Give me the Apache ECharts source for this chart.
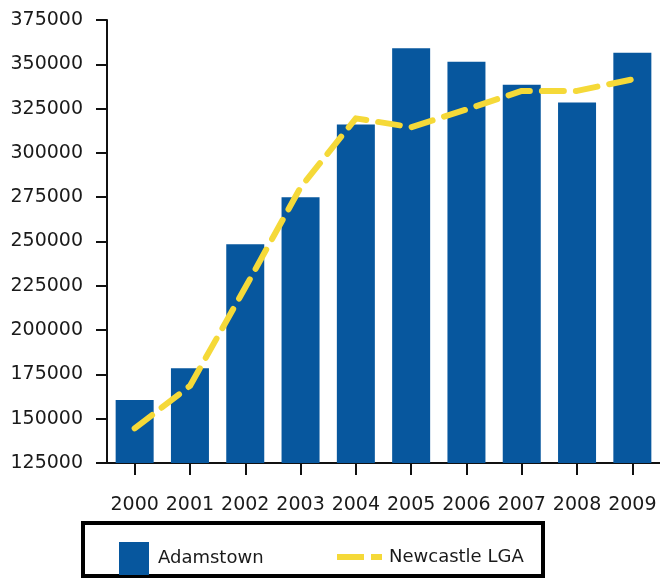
<!DOCTYPE html>
<html>
<head>
<meta charset="utf-8">
<script src="https://cdn.jsdelivr.net/npm/echarts@6/dist/echarts.min.js"></script>
<style>
html,body{margin:0;padding:0;background:#fff;}
#chart{width:660px;height:578px;}
</style>
</head>
<body>
<div id="chart"></div>
<script>
const years = ['2000','2001','2002','2003','2004','2005','2006','2007','2008','2009'];
const adamstown = [160500, 178500, 248500, 275000, 316000, 359000, 351500, 338500, 328500, 356500];
const newcastleLGA = [144500, 168500, 224000, 280500, 319500, 314500, 324500, 335000, 335000, 341500];
const yTicks = {min: 125000, max: 375000, interval: 25000};

const FONT = 'DejaVu Sans';
const BAR = '#07579E';
const LINE = '#F5D938';
const chart = echarts.init(document.getElementById('chart'), null, {renderer: 'canvas'});
chart.setOption({
  animation: false,
  backgroundColor: '#ffffff',
  textStyle: {fontFamily: FONT},
  grid: {left: 107, top: 20, width: 555, height: 443, containLabel: false},
  xAxis: {
    type: 'category',
    data: years,
    boundaryGap: true,
    axisLine: {lineStyle: {color: '#111', width: 2}},
    axisTick: {show: true, alignWithLabel: true, length: 12, lineStyle: {color: '#111', width: 2}},
    axisLabel: {color: '#1a1a1a', fontSize: 19, fontFamily: FONT, margin: 33, interval: 0}
  },
  yAxis: {
    type: 'value',
    min: yTicks.min, max: yTicks.max, interval: yTicks.interval,
    axisLine: {show: true, lineStyle: {color: '#111', width: 2}},
    axisTick: {show: true, length: 11, lineStyle: {color: '#111', width: 2}},
    splitLine: {show: false},
    axisLabel: {color: '#1a1a1a', fontSize: 19, fontFamily: FONT, margin: 24, formatter: v => String(v)}
  },
  legend: [
    {
      data: [{name: 'Adamstown', icon: 'rect'}],
      left: 114, top: 537,
      itemWidth: 30, itemHeight: 33, itemGap: 0,
      textStyle: {color: '#1a1a1a', fontSize: 18, fontFamily: FONT, padding: [0, 0, 0, 4]},
      selectedMode: false
    },
    {
      data: [{name: 'Newcastle LGA', icon: 'path://M0,0 L27,0 L27,6 L0,6 Z M34,0 L45,0 L45,6 L34,6 Z', itemStyle: {color: LINE}}],
      left: 332, top: 543,
      itemWidth: 45, itemHeight: 6,
      textStyle: {color: '#1a1a1a', fontSize: 18, fontFamily: FONT, padding: [0, 0, 0, 2]},
      selectedMode: false
    }
  ],
  graphic: [{
    type: 'rect',
    shape: {x: 83, y: 523, width: 460, height: 53},
    style: {fill: 'none', stroke: '#000', lineWidth: 4},
    silent: true
  }],
  series: [
    {
      name: 'Adamstown',
      type: 'bar',
      data: adamstown,
      barWidth: 38,
      itemStyle: {color: BAR},
      z: 2
    },
    {
      name: 'Newcastle LGA',
      type: 'line',
      data: newcastleLGA,
      symbol: 'none',
      showSymbol: false,
      lineStyle: {color: LINE, width: 6, type: [22, 12], cap: 'round', join: 'round'},
      itemStyle: {color: LINE},
      z: 3
    }
  ]
});
</script>
</body>
</html>
